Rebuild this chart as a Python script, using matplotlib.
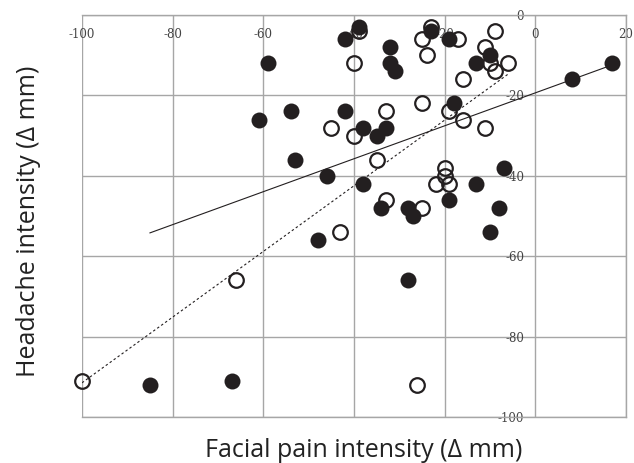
import matplotlib
matplotlib.use("Agg")
import matplotlib.pyplot as plt

plt.rcParams['axes.unicode_minus'] = False

# facial pain change (x) vs headache change (y), filled circles
filled_x = [-59, -42, -39, -54, -42, -61, -53, -46, -38, -38, -32, -32, -31,
            -23, -19, -10, -13, -18, -35, -33, -19, -13, -7, -8, -34, -28,
            -27, -10, -28, -48, -85, -67, 8, 17]
filled_y = [-12, -6, -3, -24, -24, -26, -36, -40, -28, -42, -8, -12, -14,
            -4, -6, -10, -12, -22, -30, -28, -46, -42, -38, -48, -48, -48,
            -50, -54, -66, -56, -92, -91, -16, -12]

# open circles
open_x = [-40, -45, -40, -23, -25, -17, -24, -9, -11, -10, -9, -6, -16,
          -25, -19, -16, -11, -33, -35, -20, -20, -22, -19, -33, -25, -43,
          -66, -100, -26, -39]
open_y = [-12, -28, -30, -3, -6, -6, -10, -4, -8, -12, -14, -12, -16,
          -22, -24, -26, -28, -24, -36, -38, -40, -42, -42, -46, -48, -54,
          -66, -91, -92, -4]

# trend lines (ends of each line)
trend_filled_x = [-85, 17]
trend_filled_y = [-54.2, -12.4]
trend_open_x = [-100, -6]
trend_open_y = [-91.5, -14.7]

xticks = [-100, -80, -60, -40, -20, 0, 20]
yticks = [0, -20, -40, -60, -80, -100]

fig, ax = plt.subplots(figsize=(6.34, 4.63), dpi=100)
fig.subplots_adjust(left=0.1293, right=0.9874, top=0.9676, bottom=0.0994)

ax.set_xlim(-100, 20)
ax.set_ylim(-100, 0)
ax.set_xticks(xticks)
ax.set_yticks(yticks)
ax.grid(True, color='#a6a6a6', linewidth=1.0)
ax.set_axisbelow(True)
for s in ax.spines.values():
    s.set_color('#a6a6a6')
    s.set_linewidth(1.0)
# y axis crosses at x = 0; the gridline at -100 keeps the left frame
ax.spines['left'].set_position(('data', 0))
ax.spines['left'].set_visible(False)

ax.plot(open_x, open_y, 'o', markersize=10.5, markerfacecolor='none',
        markeredgecolor='#231f20', markeredgewidth=1.6, clip_on=False, zorder=3)
ax.plot(filled_x, filled_y, 'o', markersize=11.5, color='#231f20',
        markeredgewidth=0, clip_on=False, zorder=4)

ax.plot(trend_filled_x, trend_filled_y, '-', color='#231f20', linewidth=0.8, zorder=5)
ax.plot(trend_open_x, trend_open_y, '--', color='#231f20', linewidth=0.8,
        dashes=(2.2, 2.2), zorder=5)

# x tick labels sit just under the top frame
ax.xaxis.set_ticks_position('top')
ax.tick_params(axis='x', length=0, pad=-19, labelsize=8.5, labelcolor='#444444')
ax.set_xticklabels([str(t) for t in xticks], family='DejaVu Serif')
ax.tick_params(axis='y', length=0, pad=8, labelsize=8.5, labelcolor='#444444')
ax.set_yticklabels([str(t) for t in yticks], family='DejaVu Serif')

fig.text(0.573, 0.028, 'Facial pain intensity (\u0394 mm)', ha='center', va='center',
         fontsize=18, family='Open Sans', color='#222222')
fig.text(0.045, 0.523, 'Headache intensity (\u0394 mm)', ha='center', va='center',
         rotation=90, fontsize=18, family='Open Sans', color='#222222')

plt.savefig('out.png', dpi=100)
plt.close()
